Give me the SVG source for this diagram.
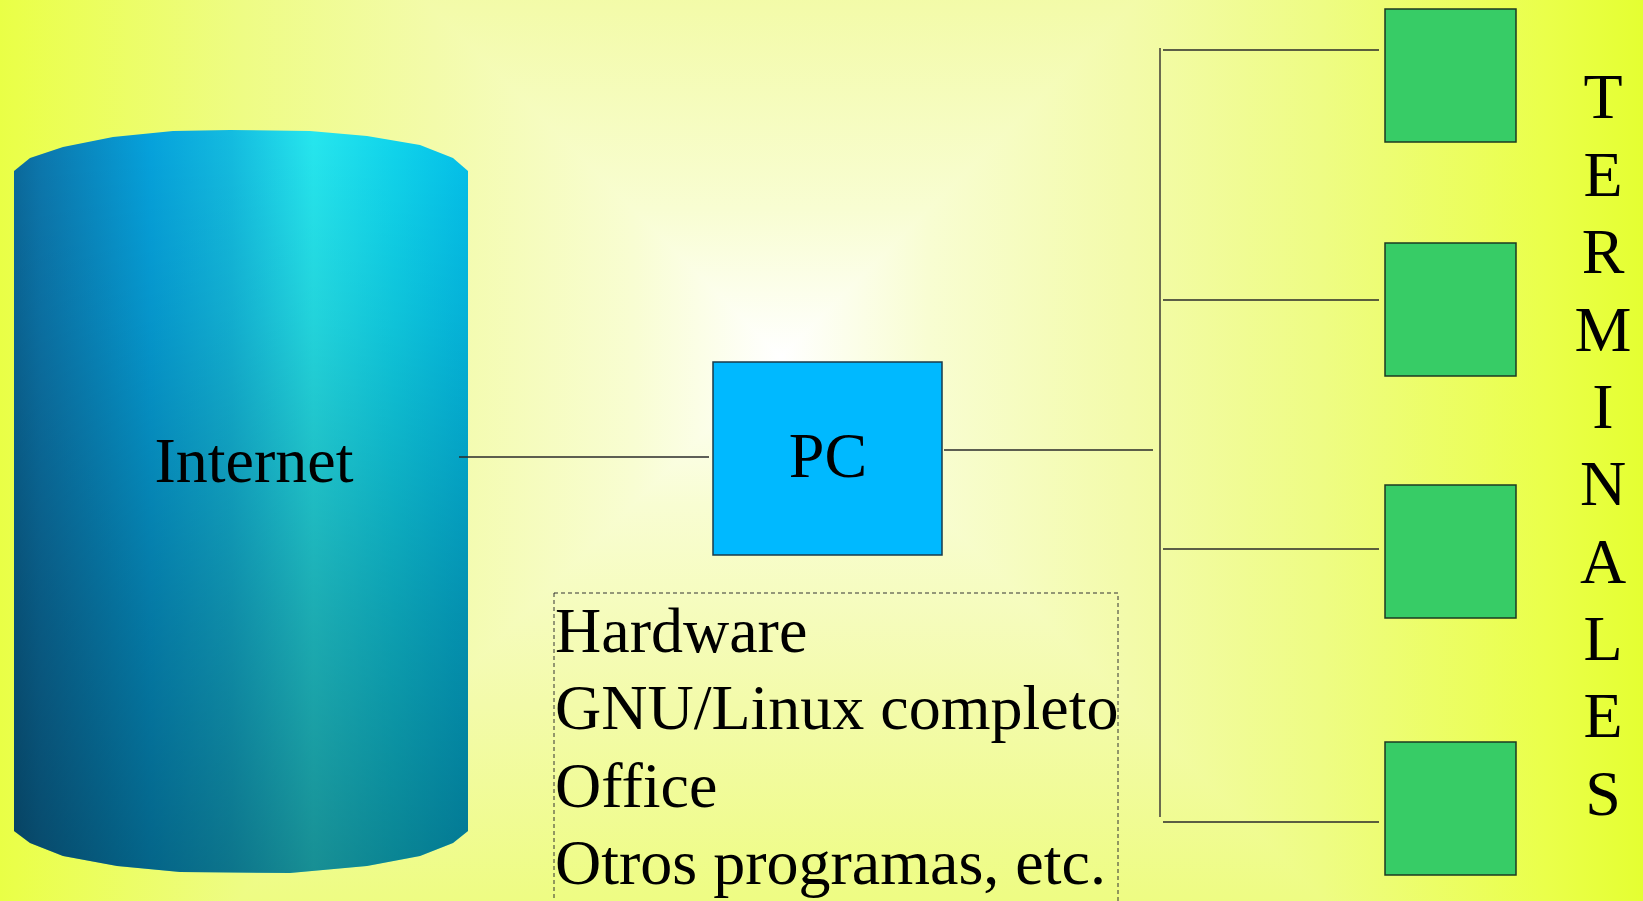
<svg xmlns="http://www.w3.org/2000/svg" width="1643" height="901" viewBox="0 0 1643 901">
<defs>
<linearGradient id="bgL" gradientUnits="userSpaceOnUse" x1="781" y1="0" x2="-89" y2="0">
<stop offset="0" stop-color="#ffffff"/><stop offset="0.17" stop-color="#f8fdd2"/><stop offset="0.4" stop-color="#f3fbaa"/><stop offset="0.62" stop-color="#eefc84"/><stop offset="0.88" stop-color="#eaff4a"/><stop offset="1" stop-color="#e4ff30"/>
</linearGradient>
<linearGradient id="bgR" gradientUnits="userSpaceOnUse" x1="781" y1="0" x2="1651" y2="0">
<stop offset="0" stop-color="#ffffff"/><stop offset="0.17" stop-color="#f8fdd2"/><stop offset="0.4" stop-color="#f3fbaa"/><stop offset="0.62" stop-color="#eefc84"/><stop offset="0.88" stop-color="#eaff4a"/><stop offset="1" stop-color="#e4ff30"/>
</linearGradient>
<linearGradient id="bgT" gradientUnits="userSpaceOnUse" x1="0" y1="357" x2="0" y2="-513">
<stop offset="0" stop-color="#ffffff"/><stop offset="0.17" stop-color="#f8fdd2"/><stop offset="0.4" stop-color="#f3fbaa"/><stop offset="0.62" stop-color="#eefc84"/><stop offset="0.88" stop-color="#eaff4a"/><stop offset="1" stop-color="#e4ff30"/>
</linearGradient>
<linearGradient id="bgB" gradientUnits="userSpaceOnUse" x1="0" y1="357" x2="0" y2="1227">
<stop offset="0" stop-color="#ffffff"/><stop offset="0.17" stop-color="#f8fdd2"/><stop offset="0.4" stop-color="#f3fbaa"/><stop offset="0.62" stop-color="#eefc84"/><stop offset="0.88" stop-color="#eaff4a"/><stop offset="1" stop-color="#e4ff30"/>
</linearGradient>
<linearGradient id="cylH" x1="0" y1="0" x2="1" y2="0">
<stop offset="0" stop-color="#0b6a9c"/><stop offset="0.06" stop-color="#0c78ae"/><stop offset="0.3" stop-color="#06a2dc"/><stop offset="0.48" stop-color="#14bce0"/><stop offset="0.66" stop-color="#26e6ee"/><stop offset="0.84" stop-color="#10d4ec"/><stop offset="1" stop-color="#04c0ea"/>
</linearGradient>
<linearGradient id="cylV" x1="0" y1="0" x2="0" y2="1">
<stop offset="0" stop-color="#000" stop-opacity="0"/><stop offset="0.25" stop-opacity="0.08" stop-color="#000"/><stop offset="0.65" stop-color="#000" stop-opacity="0.25"/><stop offset="1" stop-color="#000" stop-opacity="0.38"/>
</linearGradient>
</defs>
<style>
.txt{font-family:"Liberation Serif","Times New Roman",serif;font-size:64px;fill:#000}
.ln{stroke:#2a2a2a;stroke-width:1.3;fill:none}
.term{fill:#37cc66;stroke:#1c3a22;stroke-width:1.5}
</style>
<g id="background" shape-rendering="crispEdges">
<polygon points="781,357 424,0 0,0 0,901 237,901" fill="url(#bgL)"/>
<polygon points="781,357 1138,0 1643,0 1643,901 1325,901" fill="url(#bgR)"/>
<polygon points="781,357 424,0 1138,0" fill="url(#bgT)"/>
<polygon points="781,357 237,901 1325,901" fill="url(#bgB)"/>
</g>
<g id="internet">
<polygon points="14,171 30,158 63,147 113,137 173,131 230,130 310,131 367,136 420,145 453,158 468,171 468,831 453,843 420,856 367,866 290,873 180,872 117,866 63,856 30,843 14,831" fill="url(#cylH)"/>
<polygon points="14,171 30,158 63,147 113,137 173,131 230,130 310,131 367,136 420,145 453,158 468,171 468,831 453,843 420,856 367,866 290,873 180,872 117,866 63,856 30,843 14,831" fill="url(#cylV)"/>
<text class="txt" x="254" y="482" text-anchor="middle">Internet</text>
</g>
<g id="pc">
<rect x="713" y="362" width="229" height="193" fill="#00b9ff" stroke="#1a3a4a" stroke-width="1.5"/>
<text class="txt" x="828" y="477" text-anchor="middle">PC</text>
</g>
<g id="software">
<rect x="554" y="593" width="564" height="320" fill="none" stroke="#333" stroke-width="1" stroke-dasharray="4,3"/>
<text class="txt" x="555" y="652">Hardware</text>
<text class="txt" x="555" y="729">GNU/Linux completo</text>
<text class="txt" x="555" y="807">Office</text>
<text class="txt" x="555" y="884">Otros programas, etc.</text>
</g>
<g id="terminal1"><rect class="term" x="1385" y="9" width="131" height="133"/></g>
<g id="terminal2"><rect class="term" x="1385" y="243" width="131" height="133"/></g>
<g id="terminal3"><rect class="term" x="1385" y="485" width="131" height="133"/></g>
<g id="terminal4"><rect class="term" x="1385" y="742" width="131" height="133"/></g>
<g id="terminales-label" text-anchor="middle">
<text class="txt" x="1603" y="118">T</text>
<text class="txt" x="1603" y="196">E</text>
<text class="txt" x="1603" y="273">R</text>
<text class="txt" x="1603" y="351">M</text>
<text class="txt" x="1603" y="428">I</text>
<text class="txt" x="1603" y="505">N</text>
<text class="txt" x="1603" y="583">A</text>
<text class="txt" x="1603" y="660">L</text>
<text class="txt" x="1603" y="737">E</text>
<text class="txt" x="1603" y="815">S</text>
</g>
<g id="connectors">
<line class="ln" x1="459" y1="457" x2="709" y2="457"/>
<line class="ln" x1="944" y1="450" x2="1153" y2="450"/>
<line x1="1160" y1="48" x2="1160" y2="817" stroke="#6b6b50" stroke-width="2"/>
<line class="ln" x1="1163" y1="50" x2="1379" y2="50"/>
<line class="ln" x1="1163" y1="300" x2="1379" y2="300" stroke="#6b6b50"/>
<line class="ln" x1="1163" y1="549" x2="1379" y2="549"/>
<line class="ln" x1="1163" y1="822" x2="1379" y2="822"/>
</g>
</svg>
